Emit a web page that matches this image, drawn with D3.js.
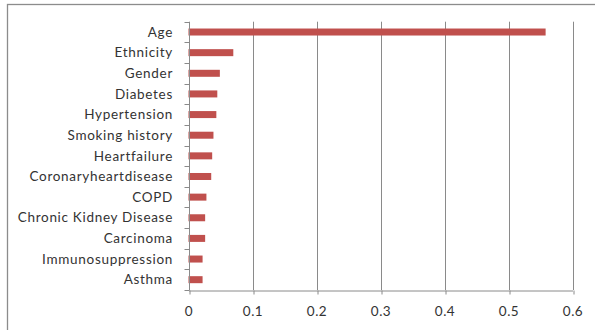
<!DOCTYPE html>
<html>
<head>
<meta charset="utf-8">
<script src="https://cdn.jsdelivr.net/npm/d3@7"></script>
<style>
  html, body { margin: 0; padding: 0; background: #fff; }
  svg { display: block; }
  text { font-family: Lato, "Open Sans", sans-serif; fill: #333; }
</style>
</head>
<body>
<div id="chart"></div>
<script>
// Feature importance by risk factor
const factors = [
  "Age", "Ethnicity", "Gender", "Diabetes", "Hypertension", "Smoking history",
  "Heartfailure", "Coronaryheartdisease", "COPD", "Chronic Kidney Disease",
  "Carcinoma", "Immunosuppression", "Asthma"
];
const importance = [
  0.558, 0.070, 0.049, 0.045, 0.0435, 0.039,
  0.037, 0.0355, 0.028, 0.026,
  0.026, 0.022, 0.022
];
const xTicks = [0, 0.1, 0.2, 0.3, 0.4, 0.5, 0.6];

const W = 595, H = 330;
const margin = { top: 21.7, right: 22.5, bottom: 40, left: 188.5 };

const svg = d3.select("#chart").append("svg")
  .attr("width", W).attr("height", H);

// outer frame (runs off the right and bottom edges)
svg.append("rect")
  .attr("x", 7.5).attr("y", 4.5)
  .attr("width", W + 20).attr("height", H + 20)
  .attr("fill", "none").attr("stroke", "#8c8c8c").attr("stroke-width", 1.3);

const x = d3.scaleLinear().domain([0, 0.6]).range([margin.left, W - margin.right]);
const y = d3.scaleBand().domain(factors).range([margin.top, H - margin.bottom]);

// vertical gridlines
svg.append("g").selectAll("line").data(xTicks.slice(1)).join("line")
  .attr("x1", d => Math.round(x(d)) + 0.5).attr("x2", d => Math.round(x(d)) + 0.5)
  .attr("y1", y.range()[0]).attr("y2", y.range()[1])
  .attr("stroke", "#8a8a8a").attr("stroke-width", 1);

// bars
const barH = 7;
svg.append("g").selectAll("rect").data(factors).join("rect")
  .attr("x", x(0))
  .attr("y", d => y(d) + y.bandwidth() / 2 - barH / 2)
  .attr("width", (d, i) => x(importance[i]) - x(0))
  .attr("height", barH)
  .attr("fill", "#C0504D");

// x axis
const xAxis = svg.append("g")
  .attr("transform", `translate(0,${Math.round(y.range()[1]) + 0.5})`)
  .call(d3.axisBottom(x).tickValues(xTicks).tickFormat(d3.format("")).tickSize(4).tickSizeOuter(0).tickPadding(12));
xAxis.select(".domain").attr("stroke", "#8a8a8a");
xAxis.selectAll(".tick line").attr("stroke", "#8a8a8a")
  .attr("transform", d => `translate(${Math.round(x(d)) + 0.5 - x(d)},0)`);
xAxis.selectAll(".tick text").attr("font-size", 13.5).attr("fill", "#333")
  .attr("letter-spacing", 0.5)
  .style("font-family", "Lato, 'Open Sans', sans-serif");

// y axis: ticks sit on category boundaries
const yAxisG = svg.append("g");
yAxisG.append("line")
  .attr("x1", Math.round(x(0)) + 0.5).attr("x2", Math.round(x(0)) + 0.5)
  .attr("y1", y.range()[0]).attr("y2", y.range()[1])
  .attr("stroke", "#8a8a8a");
const bounds = factors.map(d => y(d)).concat([y.range()[1]]);
yAxisG.selectAll("line.tk").data(bounds).join("line")
  .attr("class", "tk")
  .attr("x1", Math.round(x(0)) - 4.5).attr("x2", Math.round(x(0)) + 0.5)
  .attr("y1", d => Math.round(d) + 0.5).attr("y2", d => Math.round(d) + 0.5)
  .attr("stroke", "#8a8a8a");
yAxisG.selectAll("text").data(factors).join("text")
  .attr("x", 173)
  .attr("y", d => y(d) + y.bandwidth() / 2)
  .attr("dy", "0.35em")
  .attr("text-anchor", "end")
  .attr("font-size", 13.5)
  .attr("letter-spacing", 0.7)
  .text(d => d);
</script>
</body>
</html>
